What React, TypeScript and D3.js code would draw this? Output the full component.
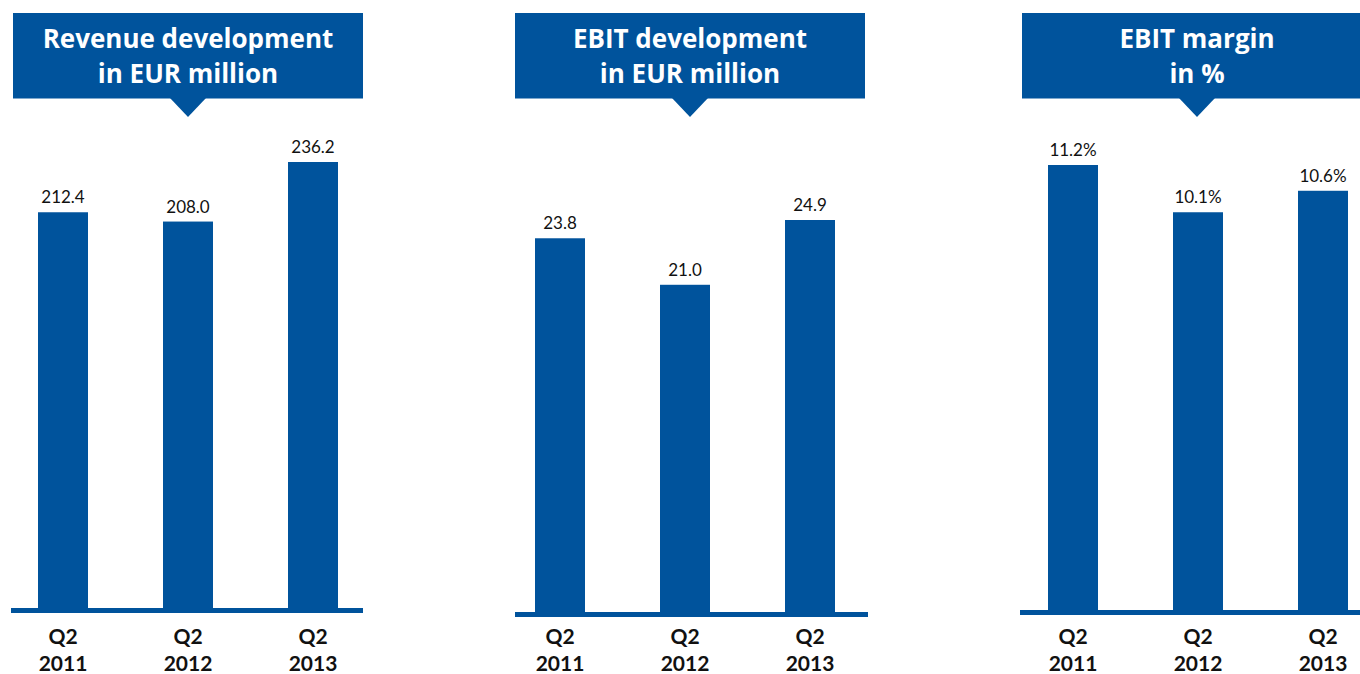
import React from "react";
import * as d3 from "d3";

const categories = ["Q2 2011", "Q2 2012", "Q2 2013"];
const revenueValues = [212.4, 208.0, 236.2];
const ebitValues = [23.8, 21.0, 24.9];
const marginValues = [11.2, 10.1, 10.6];
const revenueLabels = ["212.4", "208.0", "236.2"];
const ebitLabels = ["23.8", "21.0", "24.9"];
const marginLabels = ["11.2%", "10.1%", "10.6%"];
const titles = [
  ["Revenue development", "in EUR million"],
  ["EBIT development", "in EUR million"],
  ["EBIT margin", "in %"],
];

const BLUE = "#00539c";
const FONT = "Lato, 'Noto Sans', sans-serif";
const TITLE_FONT = "'Open Sans', 'Noto Sans', sans-serif";

type PanelProps = {
  left: number;
  baseY: number;
  lineX0: number;
  lineX1: number;
  barX0: number;
  values: number[];
  labels: string[];
  domain: [number, number];
  plotHeight: number;
  title: string[];
};

function Panel({ left, baseY, lineX0, lineX1, barX0, values, labels, domain, plotHeight, title }: PanelProps) {
  const x = d3.scaleBand().domain(categories).range([barX0, barX0 + 300]).paddingInner(0.6).paddingOuter(0);
  const y = d3.scaleLinear().domain(domain).range([baseY, baseY - plotHeight]);
  const cx = left + 175;
  return (
    <g>
      <rect x={left} y={13} width={350} height={85.5} fill={BLUE} />
      <path d={`M${cx - 18},98 L${cx + 18},98 L${cx},117 Z`} fill={BLUE} />
      {title.map((t, i) => (
        <text key={i} x={cx} y={47.5 + i * 35} textAnchor="middle" fill="#fff" fontFamily={TITLE_FONT} fontWeight={700} fontSize={26}>
          {t}
        </text>
      ))}
      {values.map((v, i) => {
        const c = categories[i];
        const bx = x(c) as number;
        return (
          <g key={c}>
            <rect x={bx} y={y(v)} width={x.bandwidth()} height={baseY - y(v)} fill={BLUE} />
            <text x={bx + x.bandwidth() / 2} y={y(v) - 9} textAnchor="middle" fill="#111" fontFamily={FONT} fontSize={17}>
              {labels[i]}
            </text>
            {c.split(" ").map((part, j) => (
              <text key={j} x={bx + x.bandwidth() / 2} y={644 + j * 27} textAnchor="middle" fill="#111" fontFamily={FONT} fontWeight={700} fontSize={21}>
                {part}
              </text>
            ))}
          </g>
        );
      })}
      <rect x={lineX0} y={baseY} width={lineX1 - lineX0} height={5} fill={BLUE} />
    </g>
  );
}

export default function App() {
  return (
    <svg width={1360} height={674} style={{ position: "absolute", left: 0, top: 0, background: "#fff" }}>
      <Panel left={13} baseY={608} lineX0={11} lineX1={363} barX0={38} values={revenueValues} labels={revenueLabels} domain={[25, 236.2]} plotHeight={446} title={titles[0]} />
      <Panel left={515} baseY={612} lineX0={515} lineX1={868} barX0={535} values={ebitValues} labels={ebitLabels} domain={[1.3, 24.9]} plotHeight={392} title={titles[1]} />
      <Panel left={1022} baseY={610} lineX0={1020} lineX1={1360} barX0={1048} values={marginValues} labels={marginLabels} domain={[0.84, 11.2]} plotHeight={445} title={titles[2]} />
    </svg>
  );
}
